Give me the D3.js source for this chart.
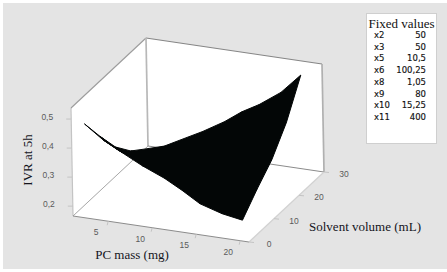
<!DOCTYPE html>
<html><head><meta charset="utf-8">
<script src="https://cdn.jsdelivr.net/npm/d3@7/dist/d3.min.js"></script>
<style>html,body{margin:0;padding:0;background:#fff}svg{display:block}</style>
</head><body><svg id="c" width="447" height="272"></svg>
<script>
const pcMass = [2.5, 4.6, 6.6, 9, 11.5, 13.5, 15.5, 18, 20.3];
const solvent = [0, 6, 12, 18, 24];
const ivrRow0  = [.490, .444, .412, .375, .343, .310, .273, .250, .238];
const ivrRow6  = [.399, .360, .340, .320, .305, .290, .280, .285, .297];
const ivrRow12 = [.314, .290, .285, .280, .285, .295, .305, .330, .350];
const ivrRow18 = [.252, .250, .255, .275, .300, .330, .360, .400, .430];
const ivrRow24 = [.211, .230, .262, .300, .345, .388, .422, .475, .545];
const ivr = [ivrRow0, ivrRow6, ivrRow12, ivrRow18, ivrRow24];
const massTicks = [5, 10, 15, 20];
const solventTicks = [0, 10, 20, 30];
const ivrTicks = [0.2, 0.3, 0.4, 0.5];
const fixedNames = ["x2","x3","x5","x6","x8","x9","x10","x11"];
const fixedValues = ["50","50","10,5","100,25","1,05","80","15,25","400"];

const svg = d3.select("#c");
const X = d3.scaleLinear([1,21],[0,1]), Y = d3.scaleLinear([0,30],[0,1]), Z = d3.scaleLinear([.166,.538],[0,1]);
const O=[73,216], EX=[176,26], EY=[75,-70], EZ=[-2,-108];
const P=(x,y,z)=>{const u=X(x),v=Y(y),w=Z(z);return [O[0]+u*EX[0]+v*EY[0]+w*EZ[0],O[1]+u*EX[1]+v*EY[1]+w*EZ[1]+0]};
const xa=X.domain(), ya=Y.domain(), za=Z.domain();
const line=d3.line();

svg.append("rect").attr("x",3).attr("y",3).attr("width",444).attr("height",266).attr("fill","#e4e4e4");

// walls and floor
const corner=(i,j,k)=>P(xa[i],ya[j],za[k]);
[[[0,0,0],[0,1,0],[0,1,1],[0,0,1]],
 [[0,1,0],[1,1,0],[1,1,1],[0,1,1]],
 [[0,0,0],[1,0,0],[1,1,0],[0,1,0]]].forEach(f=>{
  svg.append("path").attr("d",line(f.map(c=>corner(...c)))+"Z").attr("fill","#fff");
});
const edge=(a,b,col,w)=>svg.append("path").attr("d",line([corner(...a),corner(...b)])).attr("stroke",col).attr("stroke-width",w).attr("fill","none");
edge([0,0,0],[0,0,1],"#c4c4c4",1.2);
edge([0,0,1],[0,1,1],"#9c9c9c",1.1);
edge([0,1,1],[1,1,1],"#868686",1.1);
edge([0,1,0],[0,1,1],"#b8b8b8",1.7);
edge([1,1,0],[1,1,1],"#b0b0b0",1.7);
edge([0,0,0],[0,1,0],"#a8a8a8",1);
edge([0,1,0],[1,1,0],"#8c8c8c",1);
edge([0,0,0],[1,0,0],"#8c8c8c",1);
edge([1,0,0],[1,1,0],"#d2d2d2",1.2);

// surface: mesh cells merged into one path so no seams show
let mesh="";
for(let j=0;j<solvent.length-1;j++)for(let i=0;i<pcMass.length-1;i++){
  const q=[[i,j],[i+1,j],[i+1,j+1],[i,j+1]].map(([a,b])=>P(pcMass[a],solvent[b],ivr[b][a]));
  mesh+=line(q)+"Z";
}
svg.append("path").attr("d",mesh).attr("fill","#030606").attr("fill-rule","nonzero").attr("stroke","#030606").attr("stroke-width",1).attr("stroke-linejoin","round");

// ticks
const tickStyle=s=>s.attr("stroke","#c4c4c4").attr("stroke-width",1).attr("fill","none");
const label=(x,y,t,a)=>svg.append("text").attr("x",x).attr("y",y).attr("text-anchor",a||"middle").attr("dominant-baseline","central")
  .attr("font-family","'Liberation Sans'").attr("font-size",8.5).attr("fill","#5a5a5a").text(t);
const comma=d=>d3.format(".1f")(d).replace(".",",");
ivrTicks.forEach(t=>{const p=P(xa[0],ya[0],t);
  tickStyle(svg.append("path").attr("d",line([p,[p[0]-5,p[1]]])));
  label(p[0]-18,p[1]-2,comma(t),"end");});
massTicks.forEach(t=>{const p=P(t,ya[0],za[0]);
  tickStyle(svg.append("path").attr("d",line([p,[p[0]-1,p[1]+4]])));
  label(p[0]-12,p[1]+11,t);});
solventTicks.forEach(t=>{const p=P(xa[1],t,za[0]);
  tickStyle(svg.append("path").attr("d",line([p,[p[0]+5,p[1]+.5]])));
  label(p[0]+20,p[1]+2,t);});

// axis titles
const title=(x,y,t,r)=>svg.append("text").attr("transform",`translate(${x},${y})${r?" rotate(-90)":""}`)
  .attr("text-anchor","middle").attr("dominant-baseline","central")
  .attr("font-family","'Liberation Serif'").attr("font-size",13).attr("fill","#14141c").text(t);
title(27,160,"IVR at 5h",true);
title(132,254,"PC mass (mg)");
title(365,226,"Solvent volume (mL)");

// legend
svg.append("rect").attr("x",366.5).attr("y",13.5).attr("width",70).attr("height",130).attr("fill","#fff").attr("stroke","#cfcfcf");
svg.append("text").attr("x",401.5).attr("y",23).attr("text-anchor","middle").attr("dominant-baseline","central")
  .attr("font-family","'Liberation Serif'").attr("font-size",13).attr("fill","#111").text("Fixed values");
const rowY=d3.scalePoint().domain(fixedNames).range([35,117]);
const legendText=(x,y,t,a)=>svg.append("text").attr("x",x).attr("y",y).attr("text-anchor",a).attr("dominant-baseline","central")
  .attr("font-family","'DejaVu Sans'").attr("font-size",8.5).attr("fill","#111").attr("stroke","#111").attr("stroke-width",.15).text(t);
fixedNames.forEach((n,i)=>{legendText(374,rowY(n),n,"start");legendText(426,rowY(n),fixedValues[i],"end");});
</script></body></html>
